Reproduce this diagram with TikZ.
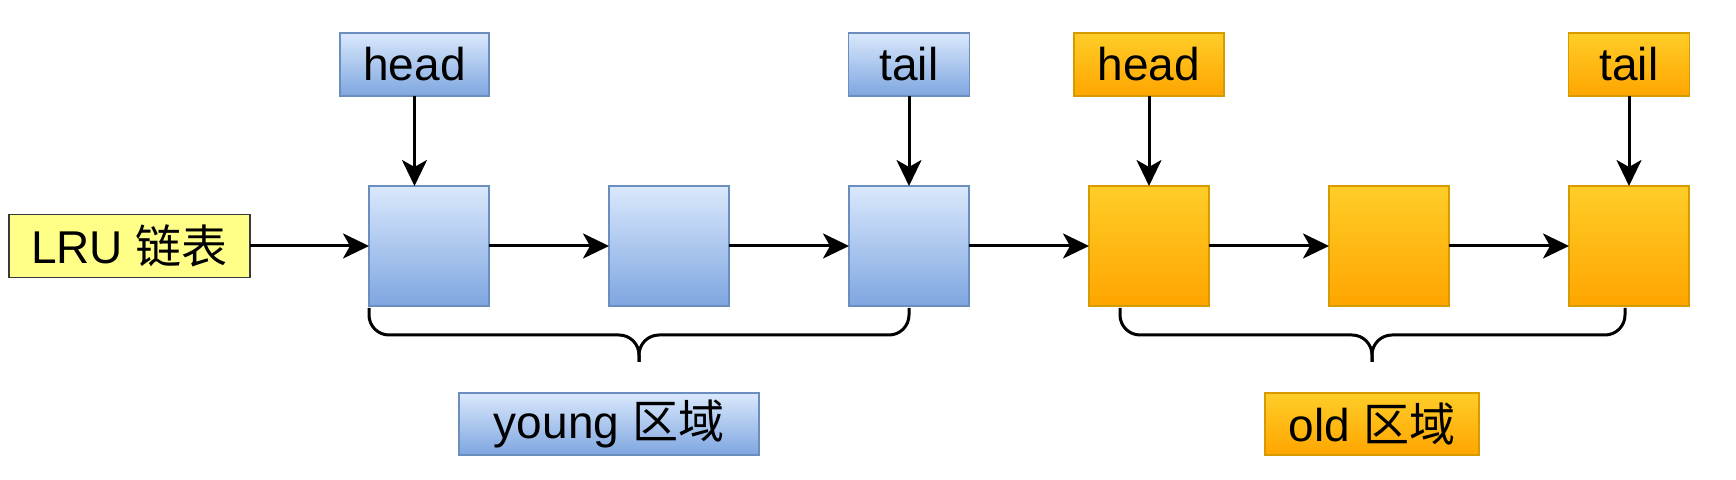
\documentclass[tikz,border=0pt]{standalone}
\usepackage{fontspec}
\setmainfont{Liberation Sans}
\newfontfamily\cjk{Noto Sans CJK SC}
\usetikzlibrary{positioning,arrows.meta}
\definecolor{bluetop}{HTML}{DAE8FC}
\definecolor{bluebot}{HTML}{7EA6E0}
\definecolor{bluedraw}{HTML}{6C8EBF}
\definecolor{orangetop}{HTML}{FFCD28}
\definecolor{orangebot}{HTML}{FFA500}
\definecolor{orangedraw}{HTML}{D79B00}
\definecolor{lrufill}{HTML}{FFFF88}
\definecolor{lrudraw}{HTML}{36393D}
\begin{document}
\begin{tikzpicture}[font=\fontsize{23}{27}\selectfont,node distance=60pt,
  box/.style={draw,line width=0.8pt,inner sep=0pt,outer sep=0pt,minimum width=60pt,minimum height=60pt},
  tag/.style={draw,line width=0.8pt,inner sep=0pt,outer sep=0pt,minimum width=60.5pt,minimum height=31.5pt},
  bluefill/.style={draw=bluedraw,top color=bluetop,bottom color=bluebot},
  orangefill/.style={draw=orangedraw,top color=orangetop,bottom color=orangebot},
  arr/.style={-{Stealth[length=13pt,width=12.5pt,inset=3.5pt]},line width=1.5pt},
  brace/.style={line width=1.5pt,rounded corners=10pt}]
\useasboundingbox (0,0) rectangle (868pt,-240pt);
% list nodes
\node [box,bluefill] (n1) at (214.5pt,-123pt) {};
\node [box,bluefill,right=of n1] (n2) {};
\node [box,bluefill,right=of n2] (n3) {};
\node [box,orangefill,right=of n3] (n4) {};
\node [box,orangefill,right=of n4] (n5) {};
\node [box,orangefill,right=of n5] (n6) {};
\node [tag,draw=lrudraw,fill=lrufill,minimum width=120.5pt,left=59.5pt of n1] (lru) {LRU {\cjk 链表}};
% pointers
\node [tag,bluefill,minimum width=74.5pt,above=45pt of n1.north east,anchor=south east] (h1) {head};
\node [tag,bluefill,above=45pt of n3] (t1) {tail};
\node [tag,orangefill,minimum width=75pt,above=45pt of n4] (h2) {head};
\node [tag,orangefill,above=45pt of n6] (t2) {tail};
\draw[arr] (lru) -- (n1);
\draw[arr] (n1) -- (n2);
\draw[arr] (n2) -- (n3);
\draw[arr] (n3) -- (n4);
\draw[arr] (n4) -- (n5);
\draw[arr] (n5) -- (n6);
\draw[arr] (h1) -- (h1 |- n1.north);
\draw[arr] (t1) -- (n3);
\draw[arr] (h2) -- (n4);
\draw[arr] (t2) -- (n6);
% braces
\coordinate (ya) at ([yshift=-1pt]n1.south west);
\coordinate (yb) at ([yshift=-1pt]n3.south);
\coordinate (ym) at (319.5pt,-181pt);
\draw[brace] (ya) -- ++(0,-13.5pt) -| (ym);
\draw[brace] (yb) -- ++(0,-13.5pt) -| (ym);
\coordinate (oa) at ([xshift=-14.5pt,yshift=-1pt]n4.south);
\coordinate (ob) at ([xshift=-2pt,yshift=-1pt]n6.south);
\coordinate (om) at (686pt,-181pt);
\draw[brace] (oa) -- ++(0,-13.5pt) -| (om);
\draw[brace] (ob) -- ++(0,-13.5pt) -| (om);
\node [tag,bluefill,minimum width=150pt,minimum height=31pt,below=15.5pt of ym,xshift=-15pt] (young) {young {\cjk 区域}};
\node [tag,orangefill,minimum width=107pt,minimum height=31pt,below=15.5pt of om] (old) {old {\cjk 区域}};
\end{tikzpicture}
\end{document}
